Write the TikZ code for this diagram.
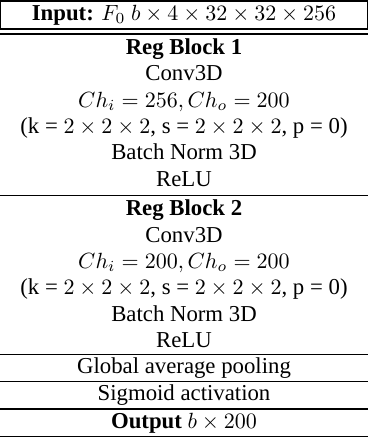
\documentclass[tikz,border=0pt]{standalone}
\usepackage{fontspec}
\setmainfont{Liberation Serif}

\begin{document}
\begin{tikzpicture}[x=0.4545pt, y=-0.4545pt,
	txt/.style={anchor=base, inner sep=0pt, font=\fontsize{10.35}{12}\selectfont},
	rule/.style={line width=0.55pt}]

\useasboundingbox (0,0) rectangle (368,438);

% Entrada
\node[txt] (inp) at (184,20.2) {\textbf{Input:} $F_0$ $b \times 4 \times 32 \times 32 \times 256$};
\draw[rule] (0.6,1) rectangle (367.4,29);
\draw[rule] (0,34) -- (368,34);

% Bloques de regresion
\foreach \blk/\top/\chin in {1/35.5/256, 2/197/200} {
	\node[txt] (reg\blk)  at (184,\top+18.7)  {\textbf{Reg Block \blk}};
	\node[txt] (conv\blk) at (184,\top+45.1)  {Conv3D};
	\node[txt] (ch\blk)   at (184,\top+71.5)  {$Ch_i = \chin, Ch_o = 200$};
	\node[txt] (ker\blk)  at (184,\top+97.9)  {(k = $2 \times 2 \times 2$, s = $2 \times 2 \times 2$, p = 0)};
	\node[txt] (bn\blk)   at (184,\top+124.3) {Batch Norm 3D};
	\node[txt] (relu\blk) at (184,\top+150.7) {ReLU};
}
\foreach \y in {195.5, 354.5}
	\draw[rule] (0,\y) -- (368,\y);

% Salida
\node[txt] (gap) at (184,373.6) {Global average pooling};
\draw[rule] (0,381.7) -- (368,381.7);
\node[txt] (sig) at (184,400.8) {Sigmoid activation};
\draw[rule] (0,409) -- (368,409);
\node[txt] (out) at (184,428.1) {\textbf{Output} $b \times 200$};
\draw[rule] (0,436.5) -- (368,436.5);
\end{tikzpicture}
\end{document}
